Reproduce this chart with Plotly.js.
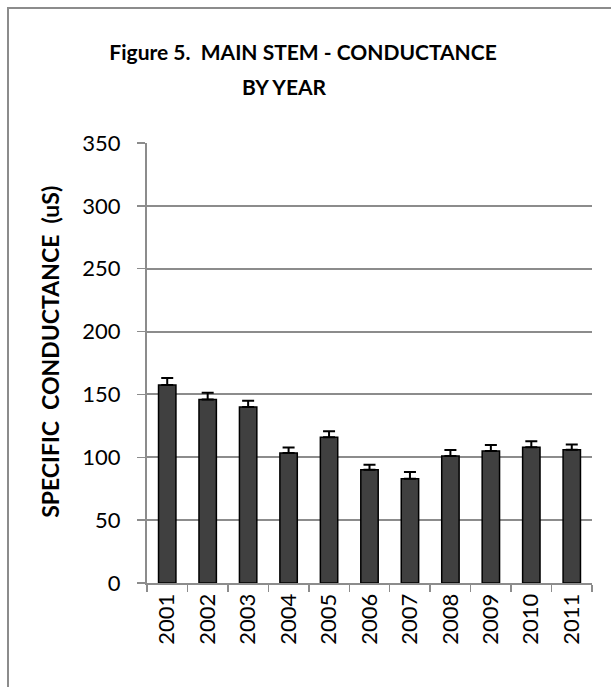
<!DOCTYPE html>
<html>
<head>
<meta charset="utf-8">
<script src="https://cdn.plot.ly/plotly-3.0.1.min.js"></script>
<style>
  html, body { margin: 0; padding: 0; background: #fff; }
  #wrap { position: relative; width: 611px; height: 687px; }
  #chart { width: 611px; height: 687px; }
  #frame { position: absolute; left: 7px; top: 7px; right: -5px; bottom: -5px;
           border-left: 2px solid #8c8c8c; border-top: 2px solid #8c8c8c; pointer-events: none; }
</style>
</head>
<body>
<div id="wrap">
  <div id="chart"></div>
  <div id="frame"></div>
</div>
<script>
const years = ["2001","2002","2003","2004","2005","2006","2007","2008","2009","2010","2011"];
const conductance = [157.5, 146, 140, 103.5, 116, 90, 83, 101, 105, 108, 106];
const errorPlus = [5.5, 5.3, 5, 4.2, 4.8, 4, 5.3, 4.8, 4.8, 4.8, 4.2];
const errorMinus = [0, 0, 0, 0, 0, 0, 0, 0, 0, 0, 0];
const titleLine1 = 'Figure 5.&nbsp; MAIN STEM - CONDUCTANCE';
const titleLine2 = 'BY YEAR';

const trace = {
  type: 'bar',
  x: years,
  y: conductance,
  marker: { color: '#404040', line: { color: '#000000', width: 1.5 } },
  error_y: {
    type: 'data', symmetric: false,
    array: errorPlus, arrayminus: errorMinus,
    color: '#000000', thickness: 2, width: 6
  },
  hoverinfo: 'x+y'
};

const gridGrey = '#8c8c8c';
const font = 'Lato, "Open Sans", "Liberation Sans", sans-serif';
const titleSize = 21;

const layout = {
  width: 611, height: 687,
  margin: { l: 147, r: 19, t: 143, b: 104 },
  paper_bgcolor: '#ffffff', plot_bgcolor: '#ffffff',
  showlegend: false,
  bargap: 0.57,
  font: { family: font, color: '#000000' },
  title: {
    text: '<b>' + titleLine1 + '</b>',
    font: { family: font, size: titleSize, color: '#000000' },
    xref: 'container', x: 0.496, xanchor: 'center',
    yref: 'container', y: 1 - 53/687, yanchor: 'middle'
  },
  annotations: [{
    text: '<b>' + titleLine2 + '</b>',
    font: { family: font, size: titleSize, color: '#000000' },
    xref: 'paper', yref: 'paper', x: 0.308, y: 1.1295,
    xanchor: 'center', yanchor: 'middle', showarrow: false
  }],
  xaxis: {
    type: 'category',
    tickangle: -90,
    ticks: 'outside', tickson: 'boundaries', ticklen: 7, tickwidth: 1.5, tickcolor: gridGrey,
    showline: true, linecolor: gridGrey, linewidth: 2,
    showgrid: false,
    tickfont: { family: font, size: 22, color: '#000000' }
  },
  yaxis: {
    range: [0, 350], dtick: 50, tick0: 0,
    ticks: 'outside', ticklen: 8, tickwidth: 1.5, tickcolor: gridGrey,
    ticklabelstandoff: 12,
    showline: true, linecolor: gridGrey, linewidth: 2,
    showgrid: true, gridcolor: gridGrey, gridwidth: 2,
    zeroline: false,
    tickfont: { family: font, size: 22, color: '#000000' },
    title: {
      text: '<b>&nbsp;&nbsp;&nbsp;&nbsp;SPECIFIC&nbsp; CONDUCTANCE&nbsp; (uS)</b>',
      font: { family: font, size: 23, color: '#000000' },
      standoff: 16
    }
  }
};

Plotly.newPlot('chart', [trace], layout, { displayModeBar: false, staticPlot: true });
</script>
</body>
</html>
